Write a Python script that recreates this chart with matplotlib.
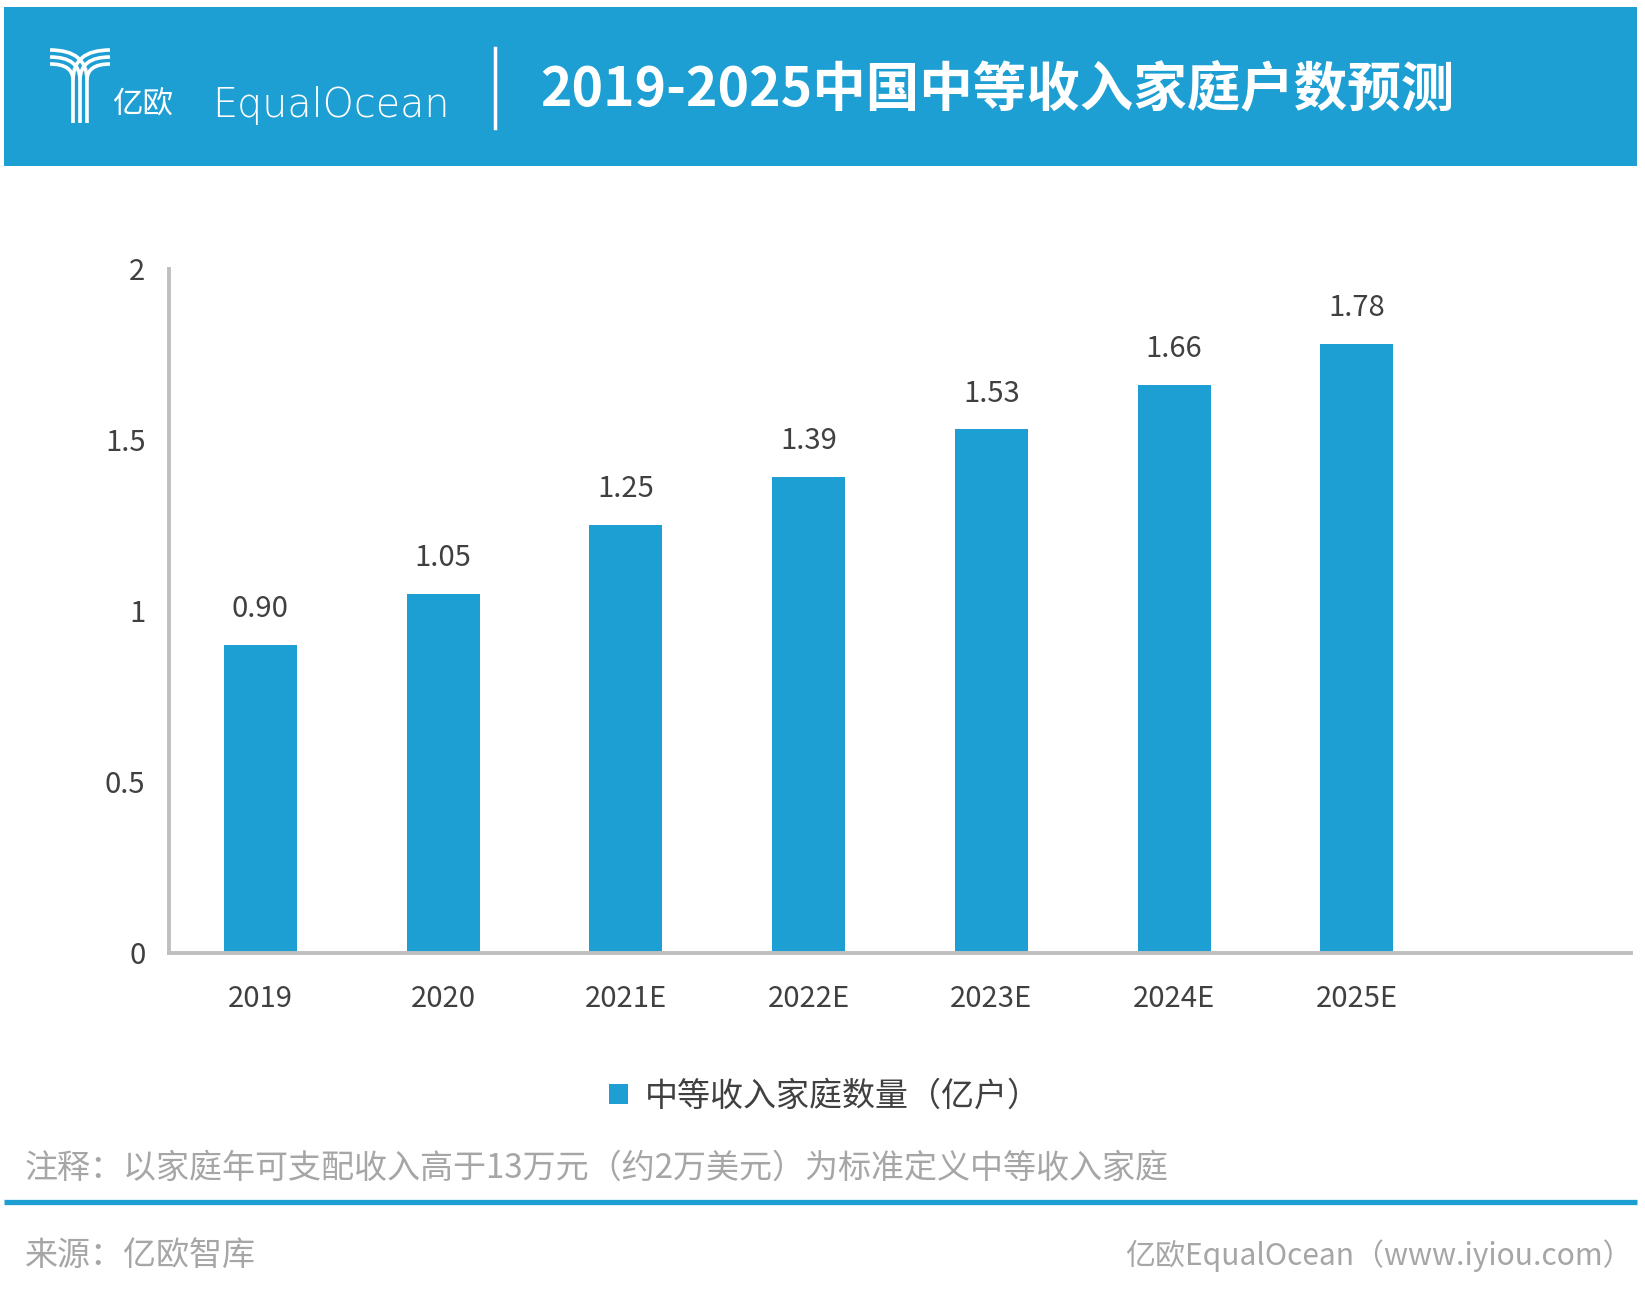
import matplotlib
matplotlib.use('Agg')
import matplotlib.pyplot as plt
from matplotlib.patches import Rectangle, PathPatch
from matplotlib.path import Path

plt.rcParams['font.family'] = ['Noto Sans CJK SC', 'DejaVu Sans']
plt.rcParams['font.weight'] = 'light'

# data
years = ['2019', '2020', '2021E', '2022E', '2023E', '2024E', '2025E']
households = [0.90, 1.05, 1.25, 1.39, 1.53, 1.66, 1.78]
value_labels = ['0.90', '1.05', '1.25', '1.39', '1.53', '1.66', '1.78']
y_ticks = [0, 0.5, 1, 1.5, 2]
y_tick_labels = ['0', '0.5', '1', '1.5', '2']

title = '2019-2025中国中等收入家庭户数预测'
series_name = '中等收入家庭数量（亿户）'
note = '注释：以家庭年可支配收入高于13万元（约2万美元）为标准定义中等收入家庭'
source = '来源：亿欧智库'
credit = '亿欧EqualOcean（www.iyiou.com）'

blue = '#1e9fd3'
dark = '#404040'
grey_text = '#a6a6a6'
axis_grey = '#bfbfbf'

W, H = 1645, 1297
fig = plt.figure(figsize=(W / 100, H / 100), dpi=100)

# overlay in pixel coordinates for the header / footer decoration
ov = fig.add_axes([0, 0, 1, 1])
ov.set_xlim(0, W)
ov.set_ylim(H, 0)
ov.axis('off')

ov.add_patch(Rectangle((4, 7), 1633, 159, color=blue, lw=0))

# Y shaped logo, three stripes
for i in range(3):
    sx = 73 + 7 * i
    ly = 64 - 7 * i
    ry = 64 - 7 * (2 - i)
    left = Path([(sx, 123), (sx, 80), (sx, ly), (50, ly)],
                [Path.MOVETO, Path.LINETO, Path.CURVE3, Path.CURVE3])
    right = Path([(sx, 80), (sx, ry), (110, ry)],
                 [Path.MOVETO, Path.CURVE3, Path.CURVE3])
    for p in (left, right):
        ov.add_patch(PathPatch(p, fill=False, ec='white', lw=2.6, capstyle='butt'))

ov.text(112, 114, '亿欧', color='white', fontsize=22, va='baseline', ha='left')
ov.text(212, 117, 'EqualOcean', color='white', fontsize=28.5, va='baseline', ha='left',
        family=['DejaVu Sans'], fontweight='light')
ov.plot([495, 495], [48, 128], color='white', lw=2.5)
ov.text(540, 90, title, color='white', fontsize=38.5, fontweight='heavy',
        va='center', ha='left')

# footer
ov.text(25, 1168, note, color=grey_text, fontsize=23.8, va='center', ha='left')
ov.plot([4, 1637], [1202, 1202], color=blue, lw=3.8, solid_capstyle='butt')
ov.text(25, 1256, source, color=grey_text, fontsize=23.8, va='center', ha='left')
ov.text(1633, 1256, credit, color=grey_text, fontsize=21.6, va='center', ha='right')

# main chart
ax = fig.add_axes([169 / W, 1 - 952.6 / H, (1631 - 169) / W, (952.6 - 268.6) / H])
x = list(range(len(years)))
bars = ax.bar(x, households, width=0.4, color=blue, label=series_name, zorder=2)
for xi, v, lab in zip(x, households, value_labels):
    ax.annotate(lab, (xi, v), xytext=(0, 15), textcoords='offset points',
                ha='center', va='bottom', fontsize=21, color=dark)

ax.set_xlim(-0.5, 7.5)
ax.set_ylim(0, 2)
ax.set_xticks(x)
ax.set_xticklabels(years)
ax.set_yticks(y_ticks)
ax.set_yticklabels(y_tick_labels)
ax.tick_params(axis='x', length=0, pad=22.5, labelsize=21, labelcolor=dark)
ax.tick_params(axis='y', length=0, pad=17, labelsize=21, labelcolor=dark)
for s in ['top', 'right']:
    ax.spines[s].set_visible(False)
for s in ['left', 'bottom']:
    ax.spines[s].set_color(axis_grey)
    ax.spines[s].set_linewidth(2.8)
ax.patch.set_alpha(0)

fig.legend(handles=[bars], loc='center', bbox_to_anchor=(825 / W, 1 - 1096 / H),
           frameon=False, fontsize=23.8, handlelength=0.57, handleheight=0.57,
           handletextpad=0.5, labelcolor=dark)

fig.savefig('out.png', dpi=100)
